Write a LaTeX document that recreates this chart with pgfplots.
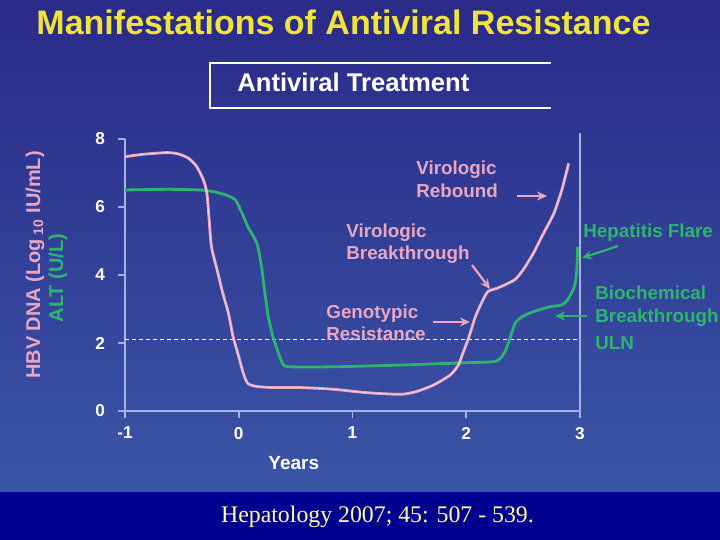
\documentclass[border=0pt]{standalone}
\usepackage{fontspec}
\setmainfont{Liberation Sans}
\newfontfamily\citefont{Liberation Serif}
\usepackage{pgfplots}
\usepackage{pgfplotstable}
\pgfplotsset{compat=1.18}
\usetikzlibrary{arrows.meta}

\definecolor{bgtop}{HTML}{2A2A88}
\definecolor{bgbot}{HTML}{3A55A6}
\definecolor{band}{HTML}{000090}
\definecolor{pinkc}{HTML}{E8A6C0}
\definecolor{greenc}{HTML}{2DB46C}
\definecolor{titley}{HTML}{F0E43C}
\definecolor{axc}{HTML}{A6B2E6}
\definecolor{citey}{HTML}{FFFF9E}

% HBV DNA (log10 IU/mL)
\pgfplotstableread{
x y
-1.00 7.48
-0.84 7.55
-0.63 7.60
-0.53 7.56
-0.44 7.43
-0.37 7.19
-0.31 6.79
-0.28 6.40
-0.26 5.62
-0.24 4.83
-0.19 4.15
-0.14 3.46
-0.09 2.87
-0.05 2.19
 0.00 1.60
 0.04 1.11
 0.08 0.81
 0.16 0.72
 0.30 0.69
 0.54 0.69
 0.83 0.64
 1.12 0.54
 1.42 0.49
 1.56 0.57
 1.71 0.76
 1.86 1.06
 1.93 1.35
 1.97 1.70
 2.02 2.14
 2.08 2.77
 2.14 3.22
 2.19 3.51
 2.27 3.61
 2.34 3.71
 2.43 3.87
 2.50 4.15
 2.59 4.64
 2.68 5.23
 2.77 5.81
 2.84 6.50
 2.90 7.28
}\hbvdata

% ALT (U/L)
\pgfplotstableread{
x y
-1.00 6.50
-0.63 6.52
-0.34 6.50
-0.22 6.45
-0.11 6.35
-0.03 6.21
 0.03 5.81
 0.08 5.42
 0.16 4.93
 0.20 4.24
 0.23 3.46
 0.26 2.77
 0.30 2.19
 0.35 1.70
 0.39 1.37
 0.45 1.30
 0.83 1.30
 1.42 1.35
 2.00 1.42
 2.24 1.45
 2.30 1.55
 2.34 1.74
 2.38 2.09
 2.43 2.58
 2.49 2.77
 2.59 2.92
 2.74 3.07
 2.84 3.12
 2.90 3.31
 2.95 3.66
 2.97 4.05
 2.98 4.83
}\altdata

\begin{document}
\begin{tikzpicture}[x=0.5pt,y=-0.5pt]
\useasboundingbox (0,0) rectangle (720,540);
\clip (0,0) rectangle (720,540);
\shade[top color=bgtop, bottom color=bgbot] (0,0) rectangle (720,492);
\fill[band] (0,492) rectangle (720,540);

% title and treatment box
\node[anchor=base, inner sep=0, text=titley, font=\bfseries\fontsize{17}{20}\selectfont] at (343.5,35) {Manifestations of Antiviral Resistance};
\draw[white, line width=1pt] (551,63) -- (210,63) -- (210,108) -- (551,108);
\node[anchor=base west, inner sep=0, text=white, font=\bfseries\fontsize{12.8}{15}\selectfont] at (237,91.5) {Antiviral Treatment};

\begin{axis}[
  x=56.875pt, y=17pt,
  at={(62.5pt,-205.5pt)}, anchor=south west,
  xmin=-1, xmax=3, ymin=0, ymax=8,
  axis x line*=bottom, axis y line*=left,
  axis line style={axc, line width=0.8pt, -},
  xtick={-1,0,1,2,3}, ytick={0,2,4,6,8},
  tick style={axc, line width=0.8pt},
  tick align=outside, major tick length=3.5pt,
  ticklabel style={white, font=\bfseries\fontsize{8.6}{10}\selectfont},
  yticklabel style={xshift=-3pt},
  xticklabel style={yshift=-1pt},
  /pgf/number format/assume math mode=true,
  clip=false,
]
\addplot[white, line width=0.5pt, dash pattern=on 2pt off 1.5pt] coordinates {(-1,2.09) (3,2.09)};
\addplot[greenc, line width=1.4pt, smooth, tension=0.4] table[x=x,y=y] {\altdata};
\addplot[pinkc, line width=1.4pt, smooth, tension=0.4] table[x=x,y=y] {\hbvdata};
\addplot[pinkc!55!white, line width=0.4pt, smooth, tension=0.4] table[x=x,y=y] {\hbvdata};
\draw[axc, line width=0.8pt] (axis cs:3,0) -- (axis cs:3,8.18);
\end{axis}

% axis titles
\node[anchor=base west, inner sep=0, text=white, font=\bfseries\fontsize{9.5}{11}\selectfont] at (268,470) {Years};
\node[rotate=90, inner sep=0, text=pinkc, font=\bfseries\fontsize{10}{12}\selectfont] at (35,265) {HBV DNA (Log\,\textsubscript{10} IU/mL)};
\node[rotate=90, inner sep=0, text=greenc, font=\bfseries\fontsize{10}{12}\selectfont] at (58,278) {ALT (U/L)};

% annotations
\begin{scope}[every node/.style={anchor=base west, inner sep=0, font=\bfseries\fontsize{9.4}{11}\selectfont}]
\node[text=pinkc] at (416,174.3) {Virologic};
\node[text=pinkc] at (416,197.3) {Rebound};
\node[text=pinkc] at (346,237.3) {Virologic};
\node[text=pinkc] at (346,260) {Breakthrough};
\node[text=pinkc] at (326,319) {Genotypic};
\node[text=pinkc] at (326,340.7) {Resistance};
\node[text=greenc] at (583,237.3) {Hepatitis Flare};
\node[text=greenc] at (595,300) {Biochemical};
\node[text=greenc] at (595,322.7) {Breakthrough};
\node[text=greenc] at (595,350) {ULN};
\end{scope}
\begin{scope}[line width=1.1pt, -{Stealth[length=5pt,width=4.5pt]}]
\draw[pinkc] (517,196) -- (547,196);
\draw[pinkc] (472,265) -- (490,289);
\draw[pinkc] (433,322) -- (470,322);
\draw[greenc] (618,246) -- (582,258);
\draw[greenc] (587,316) -- (555,316);
\end{scope}

\node[anchor=base, inner sep=0, text=citey, font=\citefont\fontsize{11.9}{14}\selectfont] at (377.5,523) {Hepatology 2007; 45: 507 - 539.};
\end{tikzpicture}
\end{document}
